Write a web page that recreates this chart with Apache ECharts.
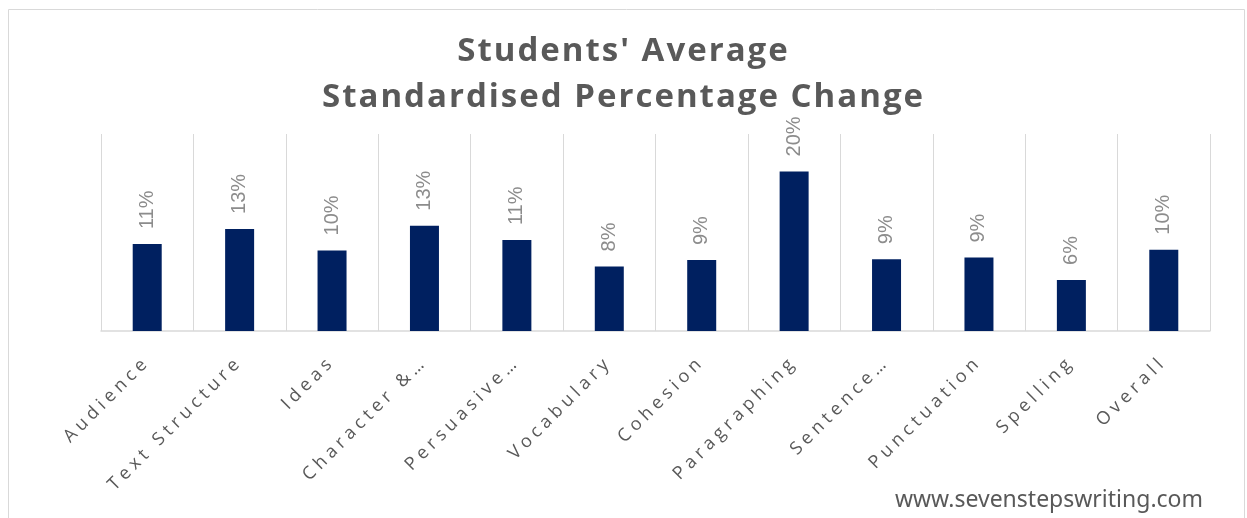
<!DOCTYPE html>
<html lang="en">
<head>
<meta charset="UTF-8">
<title>Students' Average Standardised Percentage Change</title>
<style>
  * { margin: 0; padding: 0; }
  body { background: #fff; }
  #chart { width: 1247px; height: 518px; }
</style>
<script src="https://cdn.jsdelivr.net/npm/echarts@6/dist/echarts.min.js"></script>
</head>
<body>
<div id="chart"></div>
<script>
var categories = ['Audience', 'Text Structure', 'Ideas', 'Character &\u2026', 'Persuasive\u2026', 'Vocabulary', 'Cohesion', 'Paragraphing', 'Sentence\u2026', 'Punctuation', 'Spelling', 'Overall'];
var changes = [0.109, 0.128, 0.101, 0.132, 0.114, 0.081, 0.089, 0.200, 0.090, 0.092, 0.064, 0.102];

// the excel original spreads its letters out, canvas can do that with letterSpacing
var fill = CanvasRenderingContext2D.prototype.fillText;
CanvasRenderingContext2D.prototype.fillText = function (t, x, y, w) {
  if (this.font.indexOf('Open Sans') > -1) {
    this.letterSpacing = /bold|700/.test(this.font) ? '2px' : '4.5px';
  } else {
    this.letterSpacing = '0px';
  }
  return w === undefined ? fill.call(this, t, x, y) : fill.call(this, t, x, y, w);
};

var chart = echarts.init(document.getElementById('chart'));
var option = {
  animation: false,
  title: {
    text: "Students' Average\nStandardised Percentage Change",
    left: 'center',
    top: 24,
    textStyle: {
      fontFamily: 'Open Sans',
      fontWeight: 'bold',
      fontSize: 33,
      lineHeight: 46,
      color: '#595959'
    }
  },
  grid: {
    left: 101,
    right: 37,
    top: 134,
    bottom: 187,
    containLabel: false,
    outerBoundsMode: 'none'
  },
  xAxis: {
    type: 'category',
    data: categories,
    axisTick: { show: false },
    axisLine: { lineStyle: { color: '#d9d9d9', width: 1.5 } },
    splitLine: { show: true, lineStyle: { color: '#d9d9d9', width: 1 } },
    axisLabel: {
      interval: 0,
      rotate: 45,
      margin: 28,
      fontFamily: 'Open Sans',
      fontSize: 18,
      color: '#595959'
    }
  },
  yAxis: {
    type: 'value',
    min: 0,
    max: 0.247,
    show: false
  },
  graphic: [
    {
      type: 'rect',
      z: -10,
      shape: { x: 8.5, y: 9.5, width: 1236, height: 520 },
      style: { fill: 'none', stroke: '#d9d9d9', lineWidth: 1 }
    },
    {
      type: 'text',
      right: 44,
      top: 489,
      style: {
        text: 'www.sevenstepswriting.com',
        fontFamily: 'Noto Sans',
        fontSize: 23,
        fill: '#595959'
      }
    }
  ],
  series: [{
    type: 'bar',
    data: changes,
    barWidth: 29,
    itemStyle: { color: '#002060' },
    label: {
      show: true,
      position: 'top',
      rotate: 90,
      align: 'left',
      verticalAlign: 'middle',
      distance: 15,
      fontFamily: 'Liberation Sans',
      fontSize: 20,
      color: '#8c8c8c',
      formatter: function (p) {
        return Math.round(p.value * 100) + '%';
      }
    }
  }]
};
chart.setOption(option);
</script>
</body>
</html>
